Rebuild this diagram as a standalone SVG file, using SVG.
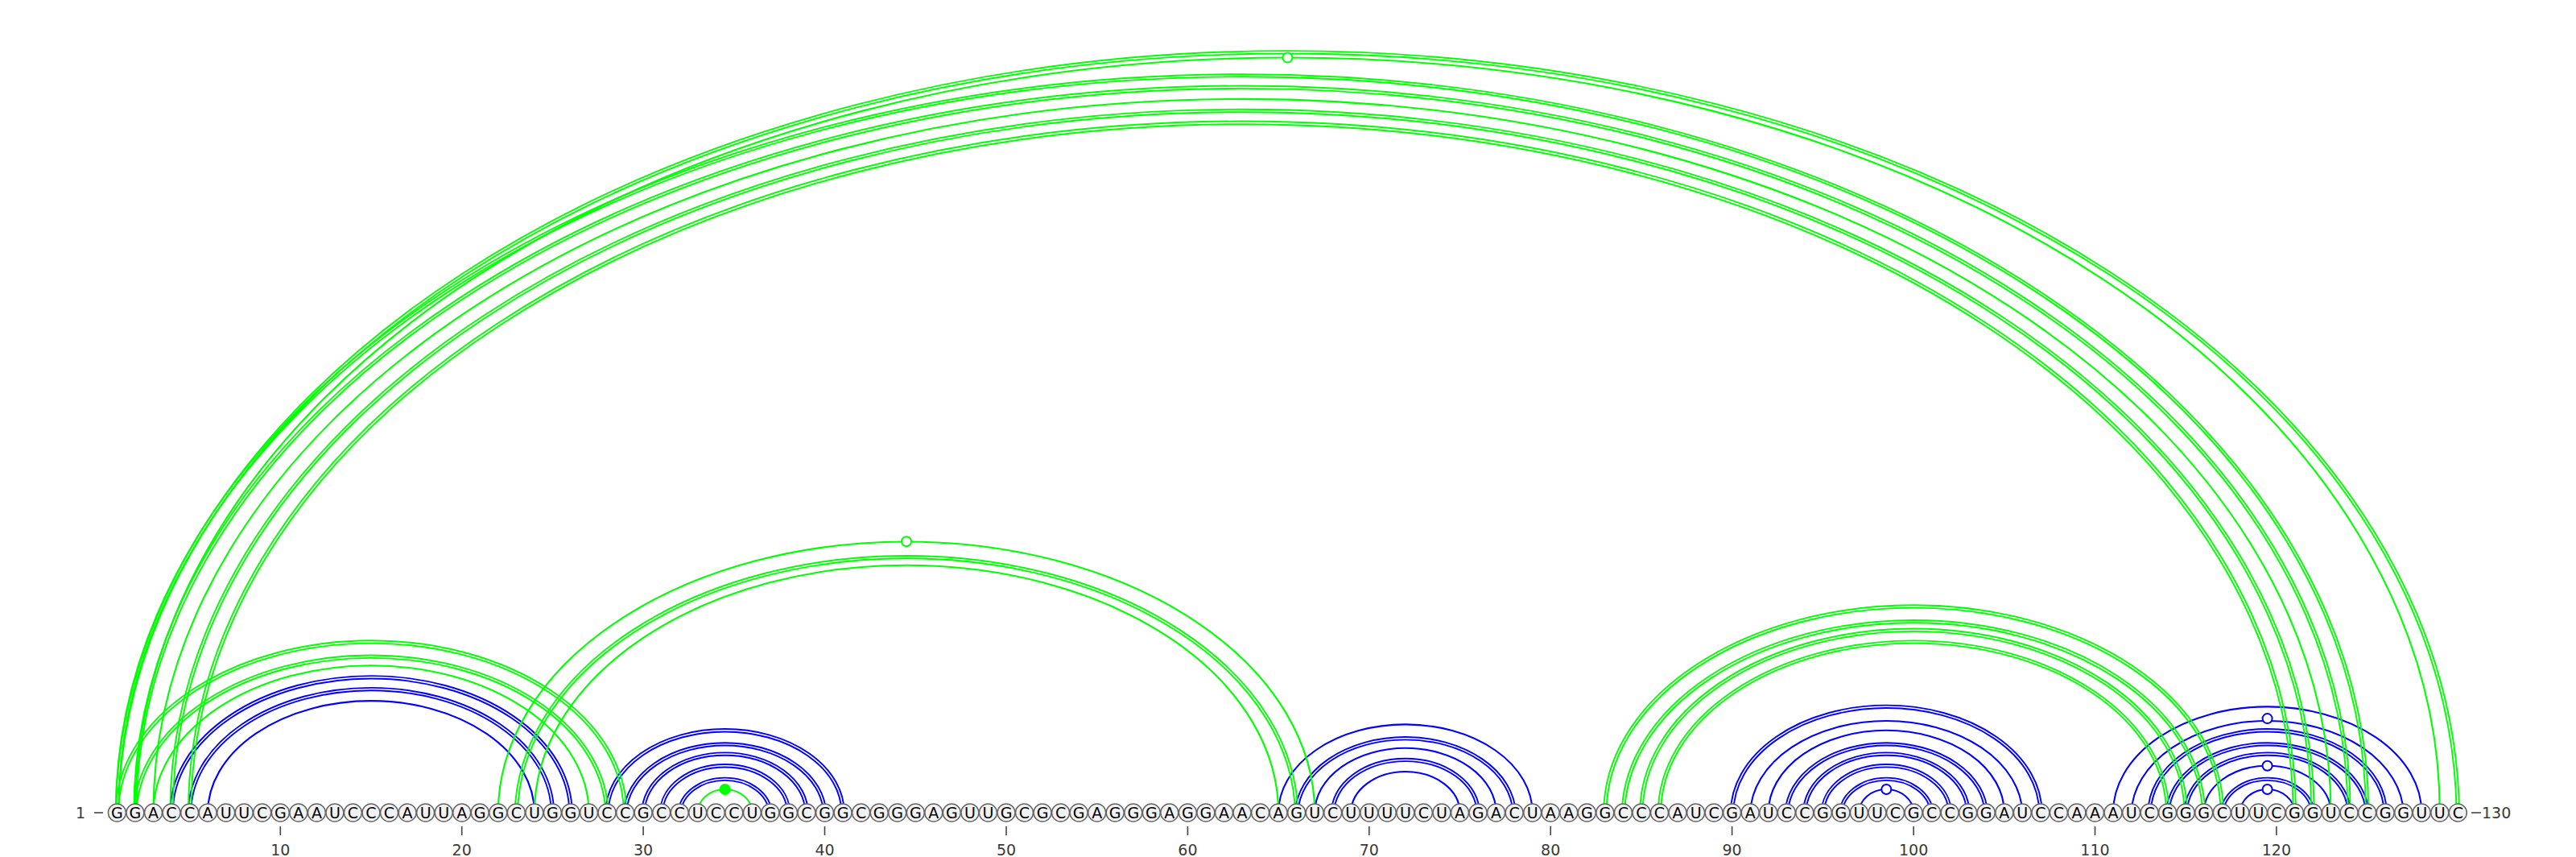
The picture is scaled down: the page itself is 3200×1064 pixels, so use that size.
<svg xmlns="http://www.w3.org/2000/svg" width="3200" height="1064" viewBox="0 0 3200 1064">
<style>
.bg{fill:#ffffff}
.b{stroke:#0000ff;fill:none}
.g{stroke:#00ff00;fill:none}
.s{stroke-width:2.1}
.d{stroke-width:1.9}
.gu{fill:#ffffff;stroke-width:2}
.gub{stroke:#0000ff}
.gug{stroke:#00ff00}
.nc{fill:#00ff00;stroke:none}
.nd circle{fill:#f2f2f2;stroke:#666666;stroke-width:1.5}
.nd text{font-family:"DejaVu Sans","Liberation Sans",sans-serif;font-size:19px;text-anchor:middle;fill:#000000}
.tick{stroke:#444444;stroke-width:1.6}
.lab{font-family:"DejaVu Sans","Liberation Sans",sans-serif;font-size:19px;fill:#3a3a3a}
.labm{text-anchor:middle}
</style>
<rect class="bg" x="0" y="0" width="3200" height="1064"/>
<g id="connectors">
<g id="blue-arcs">
<path class="b d" d="M211.3 1009 A249.7 169.9 0 0 1 710.7 1009"/>
<path class="b d" d="M214.7 1009 A246.3 166.5 0 0 1 707.3 1009"/>
<path class="b d" d="M233.9 1009 A227.1 155.2 0 0 1 688.1 1009"/>
<path class="b d" d="M237.3 1009 A223.7 151.8 0 0 1 684.7 1009"/>
<path class="b s" d="M258.1 1009 A202.9 138.9 0 0 1 663.9 1009"/>
<path class="b d" d="M752.3 1009 A148.2 103.9 0 0 1 1048.8 1009"/>
<path class="b d" d="M755.7 1009 A144.8 100.5 0 0 1 1045.4 1009"/>
<path class="b d" d="M774.9 1009 A125.7 89.3 0 0 1 1026.2 1009"/>
<path class="b d" d="M778.3 1009 A122.3 85.9 0 0 1 1022.8 1009"/>
<path class="b d" d="M797.4 1009 A103.1 74.6 0 0 1 1003.7 1009"/>
<path class="b d" d="M800.8 1009 A99.7 71.2 0 0 1 1000.3 1009"/>
<path class="b d" d="M820.0 1009 A80.6 60.0 0 0 1 981.2 1009"/>
<path class="b d" d="M823.4 1009 A77.2 56.6 0 0 1 977.8 1009"/>
<path class="b d" d="M842.5 1009 A58.1 45.3 0 0 1 958.6 1009"/>
<path class="b d" d="M845.9 1009 A54.7 41.9 0 0 1 955.2 1009"/>
<path class="b s" d="M1588.1 1009 A157.8 109.6 0 0 1 1903.7 1009"/>
<path class="b d" d="M1608.9 1009 A137.0 96.6 0 0 1 1882.8 1009"/>
<path class="b d" d="M1612.3 1009 A133.6 93.2 0 0 1 1879.4 1009"/>
<path class="b s" d="M1633.2 1009 A112.7 80.3 0 0 1 1858.6 1009"/>
<path class="b d" d="M1654.0 1009 A91.9 67.3 0 0 1 1837.8 1009"/>
<path class="b d" d="M1657.4 1009 A88.5 63.9 0 0 1 1834.4 1009"/>
<path class="b s" d="M1678.3 1009 A67.6 51.0 0 0 1 1813.5 1009"/>
<path class="b d" d="M2149.9 1009 A193.3 133.3 0 0 1 2536.6 1009"/>
<path class="b d" d="M2153.3 1009 A189.9 129.9 0 0 1 2533.2 1009"/>
<path class="b s" d="M2174.2 1009 A169.1 116.9 0 0 1 2512.3 1009"/>
<path class="b s" d="M2196.7 1009 A146.5 102.2 0 0 1 2489.8 1009"/>
<path class="b d" d="M2217.6 1009 A125.7 89.3 0 0 1 2468.9 1009"/>
<path class="b d" d="M2221.0 1009 A122.3 85.9 0 0 1 2465.5 1009"/>
<path class="b d" d="M2240.1 1009 A103.1 74.6 0 0 1 2446.4 1009"/>
<path class="b d" d="M2243.5 1009 A99.7 71.2 0 0 1 2443.0 1009"/>
<path class="b d" d="M2262.7 1009 A80.6 60.0 0 0 1 2423.9 1009"/>
<path class="b d" d="M2266.1 1009 A77.2 56.6 0 0 1 2420.5 1009"/>
<path class="b d" d="M2285.2 1009 A58.1 45.3 0 0 1 2401.3 1009"/>
<path class="b d" d="M2288.6 1009 A54.7 41.9 0 0 1 2397.9 1009"/>
<path class="b s" d="M2309.4 1009 A33.8 29.0 0 0 1 2377.1 1009"/>
<circle class="gu gub" cx="2343.3" cy="980.0" r="6"/>
<path class="b s" d="M2625.0 1009 A191.6 131.6 0 0 1 3008.2 1009"/>
<path class="b s" d="M2647.6 1009 A169.1 116.9 0 0 1 2985.7 1009"/>
<circle class="gu gub" cx="2816.6" cy="892.1" r="6"/>
<path class="b d" d="M2668.4 1009 A148.2 103.9 0 0 1 2964.9 1009"/>
<path class="b d" d="M2671.8 1009 A144.8 100.5 0 0 1 2961.5 1009"/>
<path class="b d" d="M2691.0 1009 A125.7 89.3 0 0 1 2942.3 1009"/>
<path class="b d" d="M2694.4 1009 A122.3 85.9 0 0 1 2938.9 1009"/>
<path class="b d" d="M2713.5 1009 A103.1 74.6 0 0 1 2919.8 1009"/>
<path class="b d" d="M2716.9 1009 A99.7 71.2 0 0 1 2916.4 1009"/>
<path class="b s" d="M2737.7 1009 A78.9 58.3 0 0 1 2895.5 1009"/>
<circle class="gu gub" cx="2816.6" cy="950.7" r="6"/>
<path class="b d" d="M2758.6 1009 A58.1 45.3 0 0 1 2874.7 1009"/>
<path class="b d" d="M2762.0 1009 A54.7 41.9 0 0 1 2871.3 1009"/>
<path class="b s" d="M2782.8 1009 A33.8 29.0 0 0 1 2850.4 1009"/>
<circle class="gu gub" cx="2816.6" cy="980.0" r="6"/>
</g>
<g id="green-arcs">
<path class="g d" d="M143.7 1009 A317.3 213.8 0 0 1 778.3 1009"/>
<path class="g d" d="M147.1 1009 A313.9 210.4 0 0 1 774.9 1009"/>
<path class="g d" d="M166.2 1009 A294.8 199.2 0 0 1 755.7 1009"/>
<path class="g d" d="M169.6 1009 A291.4 195.8 0 0 1 752.3 1009"/>
<path class="g s" d="M190.5 1009 A270.5 182.8 0 0 1 731.5 1009"/>
<path class="g s" d="M618.8 1009 A507.2 336.7 0 0 1 1633.2 1009"/>
<circle class="gu gug" cx="1126.0" cy="672.3" r="6"/>
<path class="g d" d="M639.6 1009 A486.4 323.7 0 0 1 1612.3 1009"/>
<path class="g d" d="M643.0 1009 A483.0 320.3 0 0 1 1608.9 1009"/>
<path class="g s" d="M663.9 1009 A462.1 307.4 0 0 1 1588.1 1009"/>
<path class="g s" d="M866.7 1009 A33.8 29.0 0 0 1 934.4 1009"/>
<circle class="nc" cx="900.6" cy="980.0" r="7"/>
<path class="g d" d="M1992.2 1009 A384.9 257.8 0 0 1 2762.0 1009"/>
<path class="g d" d="M1995.6 1009 A381.5 254.4 0 0 1 2758.6 1009"/>
<path class="g d" d="M2014.7 1009 A362.4 243.1 0 0 1 2739.4 1009"/>
<path class="g d" d="M2018.1 1009 A359.0 239.7 0 0 1 2736.0 1009"/>
<path class="g d" d="M2037.2 1009 A339.8 228.5 0 0 1 2716.9 1009"/>
<path class="g d" d="M2040.6 1009 A336.4 225.1 0 0 1 2713.5 1009"/>
<path class="g d" d="M2059.8 1009 A317.3 213.8 0 0 1 2694.4 1009"/>
<path class="g d" d="M2063.2 1009 A313.9 210.4 0 0 1 2691.0 1009"/>
<path class="g d" d="M143.7 1009 A1455.7 953.8 0 0 1 3055.0 1009"/>
<path class="g d" d="M147.1 1009 A1452.3 950.4 0 0 1 3051.6 1009"/>
<path class="g s" d="M167.9 1009 A1431.4 937.4 0 0 1 3030.8 1009"/>
<circle class="gu gug" cx="1599.4" cy="71.6" r="6"/>
<path class="g d" d="M143.7 1009 A1399.3 917.1 0 0 1 2942.3 1009"/>
<path class="g d" d="M147.1 1009 A1395.9 913.7 0 0 1 2938.9 1009"/>
<path class="g d" d="M166.2 1009 A1376.8 902.5 0 0 1 2919.8 1009"/>
<path class="g d" d="M169.6 1009 A1373.4 899.1 0 0 1 2916.4 1009"/>
<path class="g s" d="M190.5 1009 A1352.5 886.1 0 0 1 2895.5 1009"/>
<path class="g d" d="M211.3 1009 A1331.7 873.2 0 0 1 2874.7 1009"/>
<path class="g d" d="M214.7 1009 A1328.3 869.8 0 0 1 2871.3 1009"/>
<path class="g d" d="M233.9 1009 A1309.1 858.5 0 0 1 2852.1 1009"/>
<path class="g d" d="M237.3 1009 A1305.7 855.1 0 0 1 2848.7 1009"/>
</g>
</g>
<g id="axis">
<line class="tick" x1="117" y1="1009" x2="128" y2="1009"/>
<text class="lab" x="106" y="1016" text-anchor="end">1</text>
<line class="tick" x1="3070" y1="1009" x2="3082" y2="1009"/>
<text class="lab" x="3083" y="1016">130</text>
<line class="tick" x1="348.3" y1="1026" x2="348.3" y2="1037"/><text class="lab labm" x="348.3" y="1062">10</text>
<line class="tick" x1="573.7" y1="1026" x2="573.7" y2="1037"/><text class="lab labm" x="573.7" y="1062">20</text>
<line class="tick" x1="799.1" y1="1026" x2="799.1" y2="1037"/><text class="lab labm" x="799.1" y="1062">30</text>
<line class="tick" x1="1024.5" y1="1026" x2="1024.5" y2="1037"/><text class="lab labm" x="1024.5" y="1062">40</text>
<line class="tick" x1="1250.0" y1="1026" x2="1250.0" y2="1037"/><text class="lab labm" x="1250.0" y="1062">50</text>
<line class="tick" x1="1475.4" y1="1026" x2="1475.4" y2="1037"/><text class="lab labm" x="1475.4" y="1062">60</text>
<line class="tick" x1="1700.8" y1="1026" x2="1700.8" y2="1037"/><text class="lab labm" x="1700.8" y="1062">70</text>
<line class="tick" x1="1926.2" y1="1026" x2="1926.2" y2="1037"/><text class="lab labm" x="1926.2" y="1062">80</text>
<line class="tick" x1="2151.6" y1="1026" x2="2151.6" y2="1037"/><text class="lab labm" x="2151.6" y="1062">90</text>
<line class="tick" x1="2377.1" y1="1026" x2="2377.1" y2="1037"/><text class="lab labm" x="2377.1" y="1062">100</text>
<line class="tick" x1="2602.5" y1="1026" x2="2602.5" y2="1037"/><text class="lab labm" x="2602.5" y="1062">110</text>
<line class="tick" x1="2827.9" y1="1026" x2="2827.9" y2="1037"/><text class="lab labm" x="2827.9" y="1062">120</text>
</g>
<g id="nodes">
<g id="n1" class="nd" transform="translate(145.4,1009)"><circle r="11"/><text y="7">G</text></g>
<g id="n2" class="nd" transform="translate(167.9,1009)"><circle r="11"/><text y="7">G</text></g>
<g id="n3" class="nd" transform="translate(190.5,1009)"><circle r="11"/><text y="7">A</text></g>
<g id="n4" class="nd" transform="translate(213.0,1009)"><circle r="11"/><text y="7">C</text></g>
<g id="n5" class="nd" transform="translate(235.6,1009)"><circle r="11"/><text y="7">C</text></g>
<g id="n6" class="nd" transform="translate(258.1,1009)"><circle r="11"/><text y="7">A</text></g>
<g id="n7" class="nd" transform="translate(280.7,1009)"><circle r="11"/><text y="7">U</text></g>
<g id="n8" class="nd" transform="translate(303.2,1009)"><circle r="11"/><text y="7">U</text></g>
<g id="n9" class="nd" transform="translate(325.7,1009)"><circle r="11"/><text y="7">C</text></g>
<g id="n10" class="nd" transform="translate(348.3,1009)"><circle r="11"/><text y="7">G</text></g>
<g id="n11" class="nd" transform="translate(370.8,1009)"><circle r="11"/><text y="7">A</text></g>
<g id="n12" class="nd" transform="translate(393.4,1009)"><circle r="11"/><text y="7">A</text></g>
<g id="n13" class="nd" transform="translate(415.9,1009)"><circle r="11"/><text y="7">U</text></g>
<g id="n14" class="nd" transform="translate(438.4,1009)"><circle r="11"/><text y="7">C</text></g>
<g id="n15" class="nd" transform="translate(461.0,1009)"><circle r="11"/><text y="7">C</text></g>
<g id="n16" class="nd" transform="translate(483.5,1009)"><circle r="11"/><text y="7">C</text></g>
<g id="n17" class="nd" transform="translate(506.1,1009)"><circle r="11"/><text y="7">A</text></g>
<g id="n18" class="nd" transform="translate(528.6,1009)"><circle r="11"/><text y="7">U</text></g>
<g id="n19" class="nd" transform="translate(551.2,1009)"><circle r="11"/><text y="7">U</text></g>
<g id="n20" class="nd" transform="translate(573.7,1009)"><circle r="11"/><text y="7">A</text></g>
<g id="n21" class="nd" transform="translate(596.2,1009)"><circle r="11"/><text y="7">G</text></g>
<g id="n22" class="nd" transform="translate(618.8,1009)"><circle r="11"/><text y="7">G</text></g>
<g id="n23" class="nd" transform="translate(641.3,1009)"><circle r="11"/><text y="7">C</text></g>
<g id="n24" class="nd" transform="translate(663.9,1009)"><circle r="11"/><text y="7">U</text></g>
<g id="n25" class="nd" transform="translate(686.4,1009)"><circle r="11"/><text y="7">G</text></g>
<g id="n26" class="nd" transform="translate(708.9,1009)"><circle r="11"/><text y="7">G</text></g>
<g id="n27" class="nd" transform="translate(731.5,1009)"><circle r="11"/><text y="7">U</text></g>
<g id="n28" class="nd" transform="translate(754.0,1009)"><circle r="11"/><text y="7">C</text></g>
<g id="n29" class="nd" transform="translate(776.6,1009)"><circle r="11"/><text y="7">C</text></g>
<g id="n30" class="nd" transform="translate(799.1,1009)"><circle r="11"/><text y="7">G</text></g>
<g id="n31" class="nd" transform="translate(821.7,1009)"><circle r="11"/><text y="7">C</text></g>
<g id="n32" class="nd" transform="translate(844.2,1009)"><circle r="11"/><text y="7">C</text></g>
<g id="n33" class="nd" transform="translate(866.7,1009)"><circle r="11"/><text y="7">U</text></g>
<g id="n34" class="nd" transform="translate(889.3,1009)"><circle r="11"/><text y="7">C</text></g>
<g id="n35" class="nd" transform="translate(911.8,1009)"><circle r="11"/><text y="7">C</text></g>
<g id="n36" class="nd" transform="translate(934.4,1009)"><circle r="11"/><text y="7">U</text></g>
<g id="n37" class="nd" transform="translate(956.9,1009)"><circle r="11"/><text y="7">G</text></g>
<g id="n38" class="nd" transform="translate(979.5,1009)"><circle r="11"/><text y="7">G</text></g>
<g id="n39" class="nd" transform="translate(1002.0,1009)"><circle r="11"/><text y="7">C</text></g>
<g id="n40" class="nd" transform="translate(1024.5,1009)"><circle r="11"/><text y="7">G</text></g>
<g id="n41" class="nd" transform="translate(1047.1,1009)"><circle r="11"/><text y="7">G</text></g>
<g id="n42" class="nd" transform="translate(1069.6,1009)"><circle r="11"/><text y="7">C</text></g>
<g id="n43" class="nd" transform="translate(1092.2,1009)"><circle r="11"/><text y="7">G</text></g>
<g id="n44" class="nd" transform="translate(1114.7,1009)"><circle r="11"/><text y="7">G</text></g>
<g id="n45" class="nd" transform="translate(1137.3,1009)"><circle r="11"/><text y="7">G</text></g>
<g id="n46" class="nd" transform="translate(1159.8,1009)"><circle r="11"/><text y="7">A</text></g>
<g id="n47" class="nd" transform="translate(1182.3,1009)"><circle r="11"/><text y="7">G</text></g>
<g id="n48" class="nd" transform="translate(1204.9,1009)"><circle r="11"/><text y="7">U</text></g>
<g id="n49" class="nd" transform="translate(1227.4,1009)"><circle r="11"/><text y="7">U</text></g>
<g id="n50" class="nd" transform="translate(1250.0,1009)"><circle r="11"/><text y="7">G</text></g>
<g id="n51" class="nd" transform="translate(1272.5,1009)"><circle r="11"/><text y="7">C</text></g>
<g id="n52" class="nd" transform="translate(1295.0,1009)"><circle r="11"/><text y="7">G</text></g>
<g id="n53" class="nd" transform="translate(1317.6,1009)"><circle r="11"/><text y="7">C</text></g>
<g id="n54" class="nd" transform="translate(1340.1,1009)"><circle r="11"/><text y="7">G</text></g>
<g id="n55" class="nd" transform="translate(1362.7,1009)"><circle r="11"/><text y="7">A</text></g>
<g id="n56" class="nd" transform="translate(1385.2,1009)"><circle r="11"/><text y="7">G</text></g>
<g id="n57" class="nd" transform="translate(1407.8,1009)"><circle r="11"/><text y="7">G</text></g>
<g id="n58" class="nd" transform="translate(1430.3,1009)"><circle r="11"/><text y="7">G</text></g>
<g id="n59" class="nd" transform="translate(1452.8,1009)"><circle r="11"/><text y="7">A</text></g>
<g id="n60" class="nd" transform="translate(1475.4,1009)"><circle r="11"/><text y="7">G</text></g>
<g id="n61" class="nd" transform="translate(1497.9,1009)"><circle r="11"/><text y="7">G</text></g>
<g id="n62" class="nd" transform="translate(1520.5,1009)"><circle r="11"/><text y="7">A</text></g>
<g id="n63" class="nd" transform="translate(1543.0,1009)"><circle r="11"/><text y="7">A</text></g>
<g id="n64" class="nd" transform="translate(1565.6,1009)"><circle r="11"/><text y="7">C</text></g>
<g id="n65" class="nd" transform="translate(1588.1,1009)"><circle r="11"/><text y="7">A</text></g>
<g id="n66" class="nd" transform="translate(1610.6,1009)"><circle r="11"/><text y="7">G</text></g>
<g id="n67" class="nd" transform="translate(1633.2,1009)"><circle r="11"/><text y="7">U</text></g>
<g id="n68" class="nd" transform="translate(1655.7,1009)"><circle r="11"/><text y="7">C</text></g>
<g id="n69" class="nd" transform="translate(1678.3,1009)"><circle r="11"/><text y="7">U</text></g>
<g id="n70" class="nd" transform="translate(1700.8,1009)"><circle r="11"/><text y="7">U</text></g>
<g id="n71" class="nd" transform="translate(1723.3,1009)"><circle r="11"/><text y="7">U</text></g>
<g id="n72" class="nd" transform="translate(1745.9,1009)"><circle r="11"/><text y="7">U</text></g>
<g id="n73" class="nd" transform="translate(1768.4,1009)"><circle r="11"/><text y="7">C</text></g>
<g id="n74" class="nd" transform="translate(1791.0,1009)"><circle r="11"/><text y="7">U</text></g>
<g id="n75" class="nd" transform="translate(1813.5,1009)"><circle r="11"/><text y="7">A</text></g>
<g id="n76" class="nd" transform="translate(1836.1,1009)"><circle r="11"/><text y="7">G</text></g>
<g id="n77" class="nd" transform="translate(1858.6,1009)"><circle r="11"/><text y="7">A</text></g>
<g id="n78" class="nd" transform="translate(1881.1,1009)"><circle r="11"/><text y="7">C</text></g>
<g id="n79" class="nd" transform="translate(1903.7,1009)"><circle r="11"/><text y="7">U</text></g>
<g id="n80" class="nd" transform="translate(1926.2,1009)"><circle r="11"/><text y="7">A</text></g>
<g id="n81" class="nd" transform="translate(1948.8,1009)"><circle r="11"/><text y="7">A</text></g>
<g id="n82" class="nd" transform="translate(1971.3,1009)"><circle r="11"/><text y="7">G</text></g>
<g id="n83" class="nd" transform="translate(1993.8,1009)"><circle r="11"/><text y="7">G</text></g>
<g id="n84" class="nd" transform="translate(2016.4,1009)"><circle r="11"/><text y="7">C</text></g>
<g id="n85" class="nd" transform="translate(2038.9,1009)"><circle r="11"/><text y="7">C</text></g>
<g id="n86" class="nd" transform="translate(2061.5,1009)"><circle r="11"/><text y="7">C</text></g>
<g id="n87" class="nd" transform="translate(2084.0,1009)"><circle r="11"/><text y="7">A</text></g>
<g id="n88" class="nd" transform="translate(2106.6,1009)"><circle r="11"/><text y="7">U</text></g>
<g id="n89" class="nd" transform="translate(2129.1,1009)"><circle r="11"/><text y="7">C</text></g>
<g id="n90" class="nd" transform="translate(2151.6,1009)"><circle r="11"/><text y="7">G</text></g>
<g id="n91" class="nd" transform="translate(2174.2,1009)"><circle r="11"/><text y="7">A</text></g>
<g id="n92" class="nd" transform="translate(2196.7,1009)"><circle r="11"/><text y="7">U</text></g>
<g id="n93" class="nd" transform="translate(2219.3,1009)"><circle r="11"/><text y="7">C</text></g>
<g id="n94" class="nd" transform="translate(2241.8,1009)"><circle r="11"/><text y="7">C</text></g>
<g id="n95" class="nd" transform="translate(2264.4,1009)"><circle r="11"/><text y="7">G</text></g>
<g id="n96" class="nd" transform="translate(2286.9,1009)"><circle r="11"/><text y="7">G</text></g>
<g id="n97" class="nd" transform="translate(2309.4,1009)"><circle r="11"/><text y="7">U</text></g>
<g id="n98" class="nd" transform="translate(2332.0,1009)"><circle r="11"/><text y="7">U</text></g>
<g id="n99" class="nd" transform="translate(2354.5,1009)"><circle r="11"/><text y="7">C</text></g>
<g id="n100" class="nd" transform="translate(2377.1,1009)"><circle r="11"/><text y="7">G</text></g>
<g id="n101" class="nd" transform="translate(2399.6,1009)"><circle r="11"/><text y="7">C</text></g>
<g id="n102" class="nd" transform="translate(2422.1,1009)"><circle r="11"/><text y="7">C</text></g>
<g id="n103" class="nd" transform="translate(2444.7,1009)"><circle r="11"/><text y="7">G</text></g>
<g id="n104" class="nd" transform="translate(2467.2,1009)"><circle r="11"/><text y="7">G</text></g>
<g id="n105" class="nd" transform="translate(2489.8,1009)"><circle r="11"/><text y="7">A</text></g>
<g id="n106" class="nd" transform="translate(2512.3,1009)"><circle r="11"/><text y="7">U</text></g>
<g id="n107" class="nd" transform="translate(2534.9,1009)"><circle r="11"/><text y="7">C</text></g>
<g id="n108" class="nd" transform="translate(2557.4,1009)"><circle r="11"/><text y="7">C</text></g>
<g id="n109" class="nd" transform="translate(2579.9,1009)"><circle r="11"/><text y="7">A</text></g>
<g id="n110" class="nd" transform="translate(2602.5,1009)"><circle r="11"/><text y="7">A</text></g>
<g id="n111" class="nd" transform="translate(2625.0,1009)"><circle r="11"/><text y="7">A</text></g>
<g id="n112" class="nd" transform="translate(2647.6,1009)"><circle r="11"/><text y="7">U</text></g>
<g id="n113" class="nd" transform="translate(2670.1,1009)"><circle r="11"/><text y="7">C</text></g>
<g id="n114" class="nd" transform="translate(2692.6,1009)"><circle r="11"/><text y="7">G</text></g>
<g id="n115" class="nd" transform="translate(2715.2,1009)"><circle r="11"/><text y="7">G</text></g>
<g id="n116" class="nd" transform="translate(2737.7,1009)"><circle r="11"/><text y="7">G</text></g>
<g id="n117" class="nd" transform="translate(2760.3,1009)"><circle r="11"/><text y="7">C</text></g>
<g id="n118" class="nd" transform="translate(2782.8,1009)"><circle r="11"/><text y="7">U</text></g>
<g id="n119" class="nd" transform="translate(2805.4,1009)"><circle r="11"/><text y="7">U</text></g>
<g id="n120" class="nd" transform="translate(2827.9,1009)"><circle r="11"/><text y="7">C</text></g>
<g id="n121" class="nd" transform="translate(2850.4,1009)"><circle r="11"/><text y="7">G</text></g>
<g id="n122" class="nd" transform="translate(2873.0,1009)"><circle r="11"/><text y="7">G</text></g>
<g id="n123" class="nd" transform="translate(2895.5,1009)"><circle r="11"/><text y="7">U</text></g>
<g id="n124" class="nd" transform="translate(2918.1,1009)"><circle r="11"/><text y="7">C</text></g>
<g id="n125" class="nd" transform="translate(2940.6,1009)"><circle r="11"/><text y="7">C</text></g>
<g id="n126" class="nd" transform="translate(2963.1,1009)"><circle r="11"/><text y="7">G</text></g>
<g id="n127" class="nd" transform="translate(2985.7,1009)"><circle r="11"/><text y="7">G</text></g>
<g id="n128" class="nd" transform="translate(3008.2,1009)"><circle r="11"/><text y="7">U</text></g>
<g id="n129" class="nd" transform="translate(3030.8,1009)"><circle r="11"/><text y="7">U</text></g>
<g id="n130" class="nd" transform="translate(3053.3,1009)"><circle r="11"/><text y="7">C</text></g>
</g>
</svg>
